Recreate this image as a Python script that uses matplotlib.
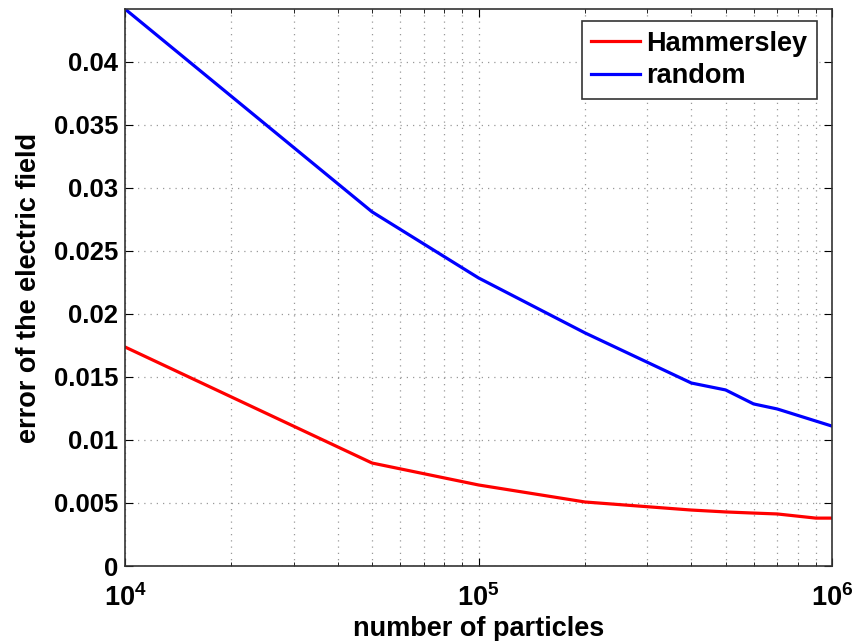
import numpy as np
import matplotlib
matplotlib.use("Agg")
import matplotlib.pyplot as plt
from matplotlib.ticker import FixedLocator, LogLocator, NullFormatter, FuncFormatter

plt.rcParams['font.family'] = ['Liberation Sans', 'DejaVu Sans']
plt.rcParams['font.weight'] = 'bold'
plt.rcParams['mathtext.fontset'] = 'custom'
plt.rcParams['mathtext.rm'] = 'Liberation Sans:bold'
plt.rcParams['mathtext.bf'] = 'Liberation Sans:bold'
plt.rcParams['mathtext.default'] = 'rm'

# data
n_hammersley = [1e4, 5e4, 1e5, 2e5, 4e5, 5e5, 6e5, 7e5, 9e5, 1e6]
err_hammersley = [0.01738, 0.00817, 0.00643, 0.00508, 0.00444, 0.00429, 0.0042, 0.00413, 0.0038, 0.0038]
n_random = [1e4, 5e4, 1e5, 2e5, 4e5, 5e5, 6e5, 7e5, 1e6]
err_random = [0.0442, 0.0281, 0.02286, 0.0185, 0.01452, 0.01397, 0.01286, 0.01246, 0.0111]
yticks = [0, 0.005, 0.01, 0.015, 0.02, 0.025, 0.03, 0.035, 0.04]
ytick_labels = ['0', '0.005', '0.01', '0.015', '0.02', '0.025', '0.03', '0.035', '0.04']

fig = plt.figure(figsize=(8.56, 6.41), dpi=100)
ax = fig.add_axes([0.146, 0.117, 0.826, 0.869])

ax.plot(n_hammersley, err_hammersley, color='#ff0000', lw=2.3, label='Hammersley')
ax.plot(n_random, err_random, color='#0000ff', lw=2.3, label='random')

ax.set_xscale('log')
ax.set_xlim(1e4, 1e6)
ax.set_ylim(0, 0.0442)
ax.set_yticks(yticks)
ax.set_yticklabels(ytick_labels)
ax.xaxis.set_major_locator(FixedLocator([1e4, 1e5, 1e6]))
ax.xaxis.set_major_formatter(FuncFormatter(lambda v, p: r'$10^{%d}$' % round(np.log10(v))))
ax.xaxis.set_minor_locator(LogLocator(base=10, subs=np.arange(2, 10)))
ax.xaxis.set_minor_formatter(NullFormatter())

ax.grid(True, which='major', axis='y', ls=(0, (1, 4)), color='#999999', lw=0.9)
ax.grid(True, which='both', axis='x', ls=(0, (1, 4)), color='#999999', lw=0.9)

ax.tick_params(axis='both', which='both', direction='in', top=True, right=True)
ax.tick_params(axis='y', which='major', length=6, labelsize=18.5, pad=5)
ax.tick_params(axis='x', which='major', length=6, labelsize=19.5, pad=13)
ax.tick_params(axis='x', which='minor', length=3)
for s in ax.spines.values():
    s.set_linewidth(1.2)
    s.set_color('#333333')

ax.set_xlabel('number of particles', fontsize=19.5, fontweight='bold', labelpad=3)
ax.set_ylabel('error of the electric field', fontsize=19.5, fontweight='bold', labelpad=8)

leg = ax.legend(loc='upper right', fontsize=19.5, handlelength=1.8, handletextpad=0.25,
                borderpad=0.35, labelspacing=0.25, fancybox=False, framealpha=1,
                borderaxespad=0, bbox_to_anchor=(0.979, 0.978))
leg.get_frame().set_edgecolor('#333333')
leg.get_frame().set_linewidth(1.2)

fig.savefig('out.png', dpi=100)
